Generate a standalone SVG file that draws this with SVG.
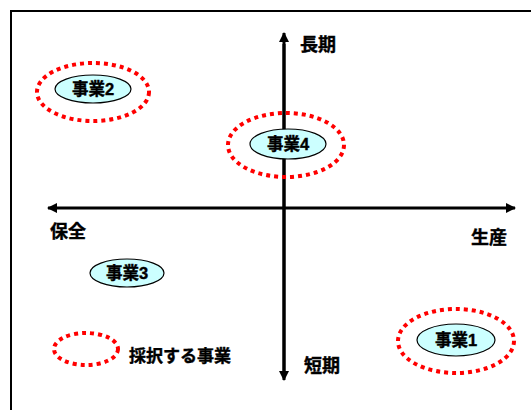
<svg xmlns="http://www.w3.org/2000/svg" width="531" height="410" viewBox="0 0 531 410">
<style>
.lbl{font-family:"Liberation Sans","Noto Sans CJK JP",sans-serif;font-weight:bold;font-size:18px;fill:#000;stroke:#000;stroke-width:0.4}
.node{fill:#ccffff;stroke:#000;stroke-width:1.2}
.ntxt{font-family:"Liberation Sans","Noto Sans CJK JP",sans-serif;font-weight:bold;font-size:16.5px;fill:#000;stroke:#000;stroke-width:0.4;text-anchor:middle;dominant-baseline:central}
.sel{fill:none;stroke:#ff0000;stroke-width:4;stroke-dasharray:4 4}
.axis{stroke:#000;stroke-width:3;fill:none}
</style>
<defs>
<marker id="ah" viewBox="0 0 10 10" refX="9" refY="5" markerWidth="3.4" markerHeight="3.4" orient="auto" markerUnits="strokeWidth">
<path d="M0,0 L10,5 L0,10 z" fill="#000"/>
</marker>
</defs>
<rect x="0" y="0" width="531" height="410" fill="#fff"/>
<rect x="11" y="11" width="540" height="420" fill="none" stroke="#000" stroke-width="2"/>
<g id="connectors">
<line class="axis" x1="284" y1="372" x2="284" y2="33" marker-end="url(#ah)"/>
<line class="axis" x1="284" y1="44" x2="284" y2="380" marker-end="url(#ah)"/>
<line class="axis" x1="284" y1="208" x2="48" y2="208" marker-end="url(#ah)"/>
<line class="axis" x1="284" y1="208" x2="515" y2="208" marker-end="url(#ah)"/>
</g>
<g id="axis-labels">
<text class="lbl" x="300" y="51">長期</text>
<text class="lbl" x="304" y="372">短期</text>
<text class="lbl" x="50" y="238">保全</text>
<text class="lbl" x="471" y="244">生産</text>
</g>
<g id="node2">
<ellipse class="sel" cx="93" cy="92" rx="56" ry="29"/>
<ellipse class="node" cx="93" cy="89" rx="38" ry="14"/>
<text class="ntxt" x="93" y="89">事業2</text>
</g>
<g id="node4">
<ellipse class="sel" cx="286" cy="145" rx="58" ry="32"/>
<ellipse class="node" cx="288" cy="144" rx="38" ry="15"/>
<text class="ntxt" x="288" y="144">事業4</text>
</g>
<g id="node3">
<ellipse class="node" cx="127" cy="273" rx="37" ry="14"/>
<text class="ntxt" x="127" y="273">事業3</text>
</g>
<g id="node1">
<ellipse class="sel" cx="456" cy="341" rx="58" ry="32"/>
<ellipse class="node" cx="456" cy="340" rx="39" ry="16"/>
<text class="ntxt" x="456" y="340">事業1</text>
</g>
<g id="legend">
<ellipse class="sel" cx="86" cy="349" rx="32" ry="16"/>
<text class="lbl" x="129" y="362" style="font-size:17px">採択する事業</text>
</g>
</svg>
